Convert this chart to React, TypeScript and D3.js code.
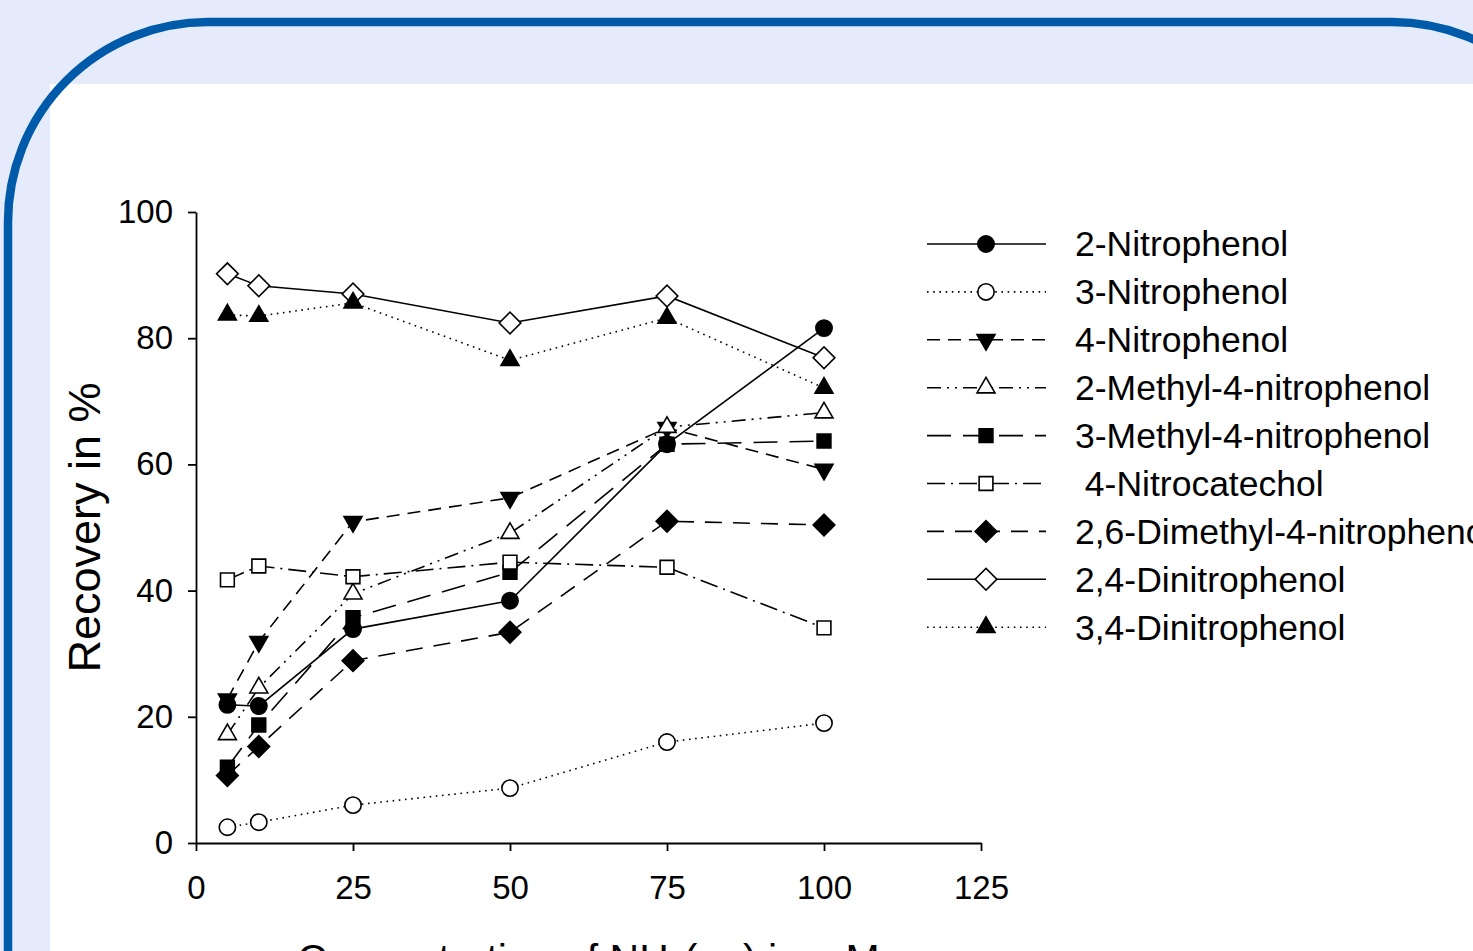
import { useEffect, useMemo, useRef } from 'react';
import * as d3 from 'd3';

// Rückgewinnung (Recovery) der Nitrophenole in Abhängigkeit der NH3-Konzentration

const WIDTH = 1473;
const HEIGHT = 951;
const PLOT = { left: 196, right: 981, top: 212, bottom: 843 };
const FONT = '"Liberation Sans", Arial, Helvetica, sans-serif';

const CONCENTRATIONS = [5, 10, 25, 50, 75, 100];
const X_TICKS = [0, 25, 50, 75, 100, 125];
const Y_TICKS = [0, 20, 40, 60, 80, 100];

const NITROPHENOL_2 = [21.9, 21.7, 33.9, 38.4, 63.2, 81.6];
const NITROPHENOL_3 = [2.5, 3.3, 6.0, 8.7, 16.0, 19.0];
const NITROPHENOL_4 = [22.8, 31.9, 50.9, 54.7, 65.8, 59.2];
const METHYL2_NITROPHENOL4 = [17.2, 24.6, 39.5, 49.1, 65.9, 68.2];
const METHYL3_NITROPHENOL4 = [12.0, 18.7, 35.7, 42.9, 63.2, 63.7];
const NITROCATECHOL_4 = [41.7, 43.9, 42.2, 44.5, 43.7, 34.1];
const DIMETHYL26_NITROPHENOL4 = [10.7, 15.3, 28.9, 33.4, 51.0, 50.4];
const DINITROPHENOL_24 = [90.2, 88.3, 87.0, 82.4, 86.7, 76.9];
const DINITROPHENOL_34 = [83.7, 83.5, 85.6, 76.5, 83.2, 72.1];

const SERIES_NAMES = [
  '2-Nitrophenol',
  '3-Nitrophenol',
  '4-Nitrophenol',
  '2-Methyl-4-nitrophenol',
  '3-Methyl-4-nitrophenol',
  ' 4-Nitrocatechol',
  '2,6-Dimethyl-4-nitrophenol',
  '2,4-Dinitrophenol',
  '3,4-Dinitrophenol',
];
const SERIES_VALUES = [
  NITROPHENOL_2,
  NITROPHENOL_3,
  NITROPHENOL_4,
  METHYL2_NITROPHENOL4,
  METHYL3_NITROPHENOL4,
  NITROCATECHOL_4,
  DIMETHYL26_NITROPHENOL4,
  DINITROPHENOL_24,
  DINITROPHENOL_34,
];

// Linienstil + Marker pro Reihe (gleiche Reihenfolge wie oben)
const STYLES = [
  { dash: null, shape: 'circle', filled: true },
  { dash: '1.6,4.6', shape: 'circle', filled: false },
  { dash: '13,8', shape: 'triangleDown', filled: true },
  { dash: '14,6,2,6,2,6', shape: 'triangle', filled: false },
  { dash: '24,12', shape: 'square', filled: true },
  { dash: '18,6,2,6', shape: 'square', filled: false },
  { dash: '17,11', shape: 'diamond', filled: true },
  { dash: null, shape: 'diamond', filled: false },
  { dash: '1.6,4.6', shape: 'triangle', filled: true },
];

const LEGEND = { lineX0: 927, lineX1: 1046, markerX: 986, textX: 1075, y0: 244, step: 47.9 };

function markerPath(shape: string) {
  switch (shape) {
    case 'circle':
      return d3.symbol().type(d3.symbolCircle).size(210)();
    case 'square':
      return d3.symbol().type(d3.symbolSquare).size(190)();
    case 'diamond':
      return d3.symbol().type(d3.symbolSquare).size(235)();
    default:
      return d3.symbol().type(d3.symbolTriangle).size(140)();
  }
}

function markerRotation(shape: string) {
  if (shape === 'diamond') return 45;
  if (shape === 'triangleDown') return 180;
  return 0;
}

function Marker({ x, y, shape, filled }: { x: number; y: number; shape: string; filled: boolean }) {
  return (
    <path
      d={markerPath(shape) || ''}
      transform={`translate(${x},${y}) rotate(${markerRotation(shape)})`}
      fill={filled ? '#000' : '#fff'}
      stroke="#000"
      strokeWidth={1.6}
    />
  );
}

export default function App() {
  const xAxisRef = useRef<SVGGElement>(null);
  const yAxisRef = useRef<SVGGElement>(null);

  const x = useMemo(() => d3.scaleLinear().domain([0, 125]).range([PLOT.left, PLOT.right]), []);
  const y = useMemo(() => d3.scaleLinear().domain([0, 100]).range([PLOT.bottom, PLOT.top]), []);

  const line = useMemo(
    () =>
      d3
        .line<number>()
        .x((_, i) => x(CONCENTRATIONS[i]))
        .y((v) => y(v)),
    [x, y]
  );

  useEffect(() => {
    const styleAxis = (g: d3.Selection<SVGGElement, unknown, null, undefined>) => {
      g.attr('font-family', FONT).attr('font-size', 33);
      g.selectAll('path, line').attr('stroke', '#000').attr('stroke-width', 1.8);
      g.selectAll('text').attr('fill', '#000');
    };
    d3.select(yAxisRef.current!)
      .call(d3.axisLeft(y).tickValues(Y_TICKS).tickSize(8).tickSizeOuter(0).tickPadding(15))
      .call(styleAxis);
    d3.select(xAxisRef.current!)
      .call(d3.axisBottom(x).tickValues(X_TICKS).tickSize(8).tickSizeOuter(0).tickPadding(25))
      .call(styleAxis);
  }, [x, y]);

  // blauer Rahmen mit abgerundeten Ecken
  const r = 200;
  const bx = 8;
  const by = 22;
  const topEnd = 1392;
  const framePath = `M${bx},${HEIGHT + 20} L${bx},${by + r} A${r},${r} 0 0 1 ${bx + r},${by} L${topEnd},${by} A${r},${r} 0 0 1 ${topEnd + r},${by + r}`;

  return (
    <div style={{ position: 'absolute', left: 0, top: 0, width: WIDTH, height: HEIGHT, overflow: 'hidden' }}>
      <svg width={WIDTH} height={HEIGHT} style={{ display: 'block' }} fontFamily={FONT}>
        <rect x={0} y={0} width={WIDTH} height={HEIGHT} fill="#e5ebfa" />
        <rect x={50} y={84} width={WIDTH - 50} height={HEIGHT - 84} fill="#fff" />
        <path d={framePath} fill="none" stroke="#005aaa" strokeWidth={8.5} />

        <g ref={yAxisRef} transform={`translate(${PLOT.left},0)`} />
        <g ref={xAxisRef} transform={`translate(0,${PLOT.bottom})`} />

        <text transform={`translate(100,${(PLOT.top + PLOT.bottom) / 2}) rotate(-90)`} textAnchor="middle" fontSize={45}>
          Recovery in %
        </text>
        <text x={(PLOT.left + PLOT.right) / 2} y={973} textAnchor="middle" fontSize={41}>
          Concentration of NH
          <tspan fontSize={27} dy={8}>3</tspan>
          <tspan dy={-8}>(aq) in mM</tspan>
        </text>

        {SERIES_VALUES.map((values, s) => (
          <path
            key={`line-${s}`}
            d={line(values) || ''}
            fill="none"
            stroke="#000"
            strokeWidth={1.6}
            strokeDasharray={STYLES[s].dash || undefined}
          />
        ))}
        {SERIES_VALUES.map((values, s) =>
          values.map((v, i) => (
            <Marker key={`m-${s}-${i}`} x={x(CONCENTRATIONS[i])} y={y(v)} shape={STYLES[s].shape} filled={STYLES[s].filled} />
          ))
        )}

        {SERIES_NAMES.map((name, s) => {
          const ly = LEGEND.y0 + s * LEGEND.step;
          return (
            <g key={`leg-${s}`}>
              <line
                x1={LEGEND.lineX0}
                x2={LEGEND.lineX1}
                y1={ly}
                y2={ly}
                stroke="#000"
                strokeWidth={1.6}
                strokeDasharray={STYLES[s].dash || undefined}
              />
              <Marker x={LEGEND.markerX} y={ly} shape={STYLES[s].shape} filled={STYLES[s].filled} />
              <text x={LEGEND.textX} y={ly} dy="0.35em" fontSize={35.5} style={{ whiteSpace: 'pre' }}>
                {name}
              </text>
            </g>
          );
        })}
      </svg>
    </div>
  );
}
